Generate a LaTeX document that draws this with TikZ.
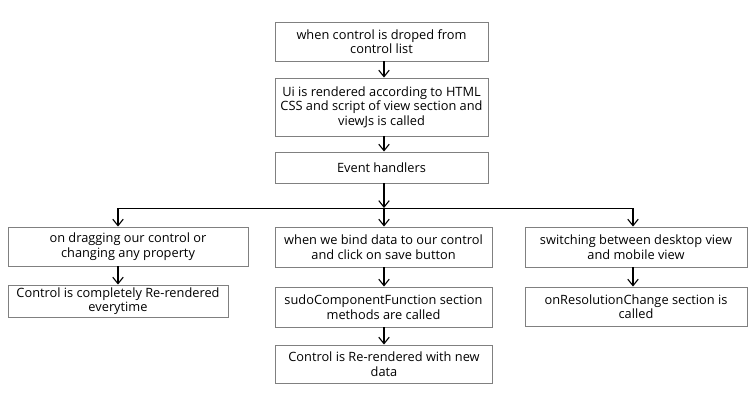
\documentclass[tikz,border=0pt]{standalone}
\usepackage{fontspec}
\setmainfont{Open Sans}
\usetikzlibrary{arrows.meta}

\tikzset{
	stepbox/.style={draw=black!50,line width=0.9pt,align=center,inner sep=0pt,
		font=\fontsize{12.8}{14.4}\selectfont},
	arr/.style={-{Straight Barb[length=6.5pt,width=10.5pt]},line width=1.1pt}
}

\begin{document}
\begin{tikzpicture}[x=1pt,y=-1pt]
		\useasboundingbox (0,0) rectangle (753,404);
		% main column
		\node[stepbox,minimum width=213pt,minimum height=39pt] (drop) at (381.5,41.5) {when control is droped from\\control list};
		\node[stepbox,minimum width=213pt,minimum height=58pt] (ui) at (381.5,107) {Ui is rendered according to HTML\\CSS and script of view section and\\viewJs is called};
		\node[stepbox,minimum width=213pt,minimum height=31pt] (ev) at (381.5,167.5) {Event handlers};
		% three branches
		\node[stepbox,minimum width=240pt,minimum height=39pt] (drag) at (128,246.5) {on dragging our control or\\changing any property};
		\node[stepbox,minimum width=220pt,minimum height=32pt] (full) at (118,301) {Control is completely Re-rendered\\everytime};
		\node[stepbox,minimum width=217pt,minimum height=40pt] (bind) at (383.5,247) {when we bind data to our control\\and click on save button};
		\node[stepbox,minimum width=217pt,minimum height=40pt] (sudo) at (383.5,307) {sudoComponentFunction section\\methods are called};
		\node[stepbox,minimum width=217pt,minimum height=38pt] (rend) at (384,364) {Control is Re-rendered with new\\data};
		\node[stepbox,minimum width=222pt,minimum height=40pt] (swit) at (636,247) {switching between desktop view\\and mobile view};
		\node[stepbox,minimum width=222pt,minimum height=39pt] (reso) at (636,306.5) {onResolutionChange section is\\called};
		% columns and split line
		\coordinate (lcol) at (118,208);
		\coordinate (mcol) at (384,208);
		\coordinate (rcol) at (633,208);
		\draw[arr] (ev.south -| mcol) -- (mcol);
		\draw[line width=1pt] (lcol) -- (rcol);
		\foreach \c/\d in {lcol/drag,mcol/bind,rcol/swit}
			\draw[arr] (\c) -- (\d.north -| \c);
		\foreach \a/\b/\c in
		{
		drop/ui/mcol,
		ui/ev/mcol,
		drag/full/lcol,
		bind/sudo/mcol,
		sudo/rend/mcol,
		swit/reso/rcol}
			\draw[arr] (\a.south -| \c) -- (\b.north -| \c);
	\end{tikzpicture}
\end{document}
